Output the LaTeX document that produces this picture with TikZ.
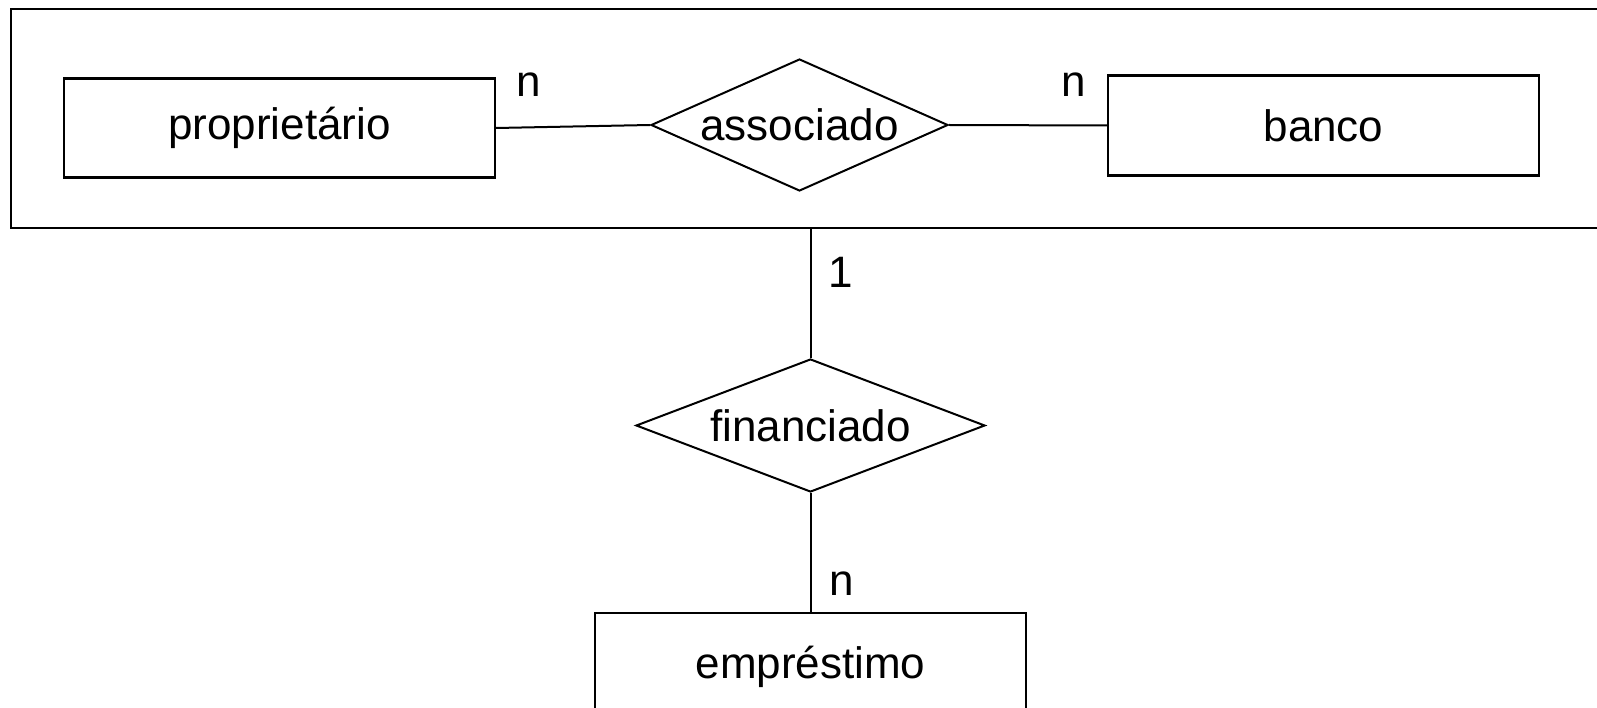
\documentclass[tikz,border=0pt]{standalone}
\usepackage{fontspec}
\setmainfont{Liberation Sans}
\usetikzlibrary{shapes.geometric}
\begin{document}
\begin{tikzpicture}[x=1pt,y=-1pt,
  every node/.style={font=\fontsize{44}{52}\selectfont},
  entity/.style={draw,line width=2.4pt,rectangle,minimum width=431pt,minimum height=99pt,inner sep=0pt},
  relation/.style={draw,line width=2pt,diamond,inner sep=0pt},
  outerbox/.style={draw,line width=2.6pt,rectangle,inner sep=0pt},
  card/.style={inner sep=0pt},
  conn/.style={line width=2pt}]
\useasboundingbox (0,0) rectangle (1597,708);
\begin{scope}
\clip (0,0) rectangle (1597,708);
\fill[white] (0,0) rectangle (1597,708);
\node[outerbox,minimum width=1591pt,minimum height=219pt] (agg) at (806.5,118.5) {};
\node[entity] (prop) at (279.5,128) {proprietário};
\node[relation,minimum width=297pt,minimum height=132pt,aspect=2.25] (assoc) at (799.5,125) {associado};
\node[entity,minimum height=100pt] (banco) at (1323.5,125.5) {banco};
\node[relation,minimum width=349pt,minimum height=133pt,aspect=2.62] (fin) at (810.5,425.5) {financiado};
\node[entity,minimum height=108pt] (emp) at (810.5,667) {empréstimo};
\draw[conn] (prop.east) -- (assoc.west);
\draw[conn] (assoc.east) -- (banco.west);
\draw[conn] (agg.south -| fin.north) -- (fin.north);
\draw[conn] (fin.south) -- (fin.south |- emp.north);
\node[card] (n1) at (528.5,85) {n};
\node[card] (n2) at (1074,85) {n};
\node[card] (c1) at (841,272) {1};
\node[card] (n3) at (842,584) {n};
\end{scope}
\end{tikzpicture}
\end{document}
